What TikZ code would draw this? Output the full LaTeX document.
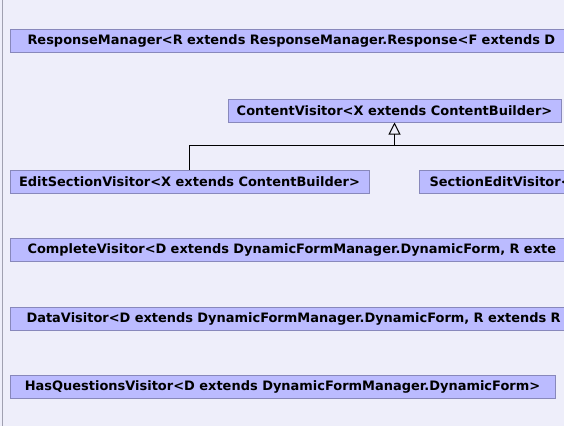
\documentclass[tikz,border=0pt]{standalone}
\usepackage{fontspec}
\setmainfont{DejaVu Sans}
\usetikzlibrary{arrows.meta}
\definecolor{umBack}{HTML}{EEEEFA}
\definecolor{umFill}{HTML}{BBBBFF}
\definecolor{umLine}{HTML}{8888BB}
\definecolor{umRule}{HTML}{A0A0B0}
\tikzset{
  um-box/.style={
    draw=umLine, line width=0.75pt, fill=umFill,
    font=\fontsize{9.72}{11}\selectfont\bfseries,
    inner ysep=0pt, minimum height=17.25pt
  },
  um-full/.style={um-box, minimum width=#1},
  um-cut/.style={um-box, anchor=west, align=left,
    text width=520pt, inner xsep=#1},
  um-link/.style={line width=0.75pt, draw=black},
  um-gen/.style={um-link, -{Triangle[open, length=9pt, width=9pt]}}
}
\begin{document}
\begin{tikzpicture}[x=0.75pt, y=-0.75pt]
\useasboundingbox (0,0) rectangle (564,426);
\fill[umBack] (0,0) rectangle (564,426);
\clip (0,0) rectangle (564,426);
\draw[umRule, line width=0.75pt] (2.5,0) -- (2.5,426);

% top-level manager
\node[um-cut=12.75pt] (resp) at (10,40.5)
  {ResponseManager<R extends ResponseManager.Response<F extends D};

% visitor hierarchy
\node[um-full=249.75pt] (content) at (394.5,110.5)
  {ContentVisitor<X extends ContentBuilder>};
\node[um-full=269.25pt] (edit) at (189.5,181.5)
  {EditSectionVisitor<X extends ContentBuilder>};
\node[um-cut=7.5pt] (secedit) at (419,181.5)
  {SectionEditVisitor<};
\coordinate (joint) at (394.5,145);

\draw[um-gen] (joint) -- (content);
\draw[um-link] (edit.north) |- (joint);
\draw[um-link] (joint) -- ++(200,0);

% form visitors
\node[um-cut=12.75pt] (complete) at (10,249.5)
  {CompleteVisitor<D extends DynamicFormManager.DynamicForm, R exte};
\node[um-cut=12pt] (data) at (10,318.5)
  {DataVisitor<D extends DynamicFormManager.DynamicForm, R extends R};
\node[um-full=408.75pt] (hasq) at (282.5,387)
  {HasQuestionsVisitor<D extends DynamicFormManager.DynamicForm>};
\end{tikzpicture}
\end{document}
